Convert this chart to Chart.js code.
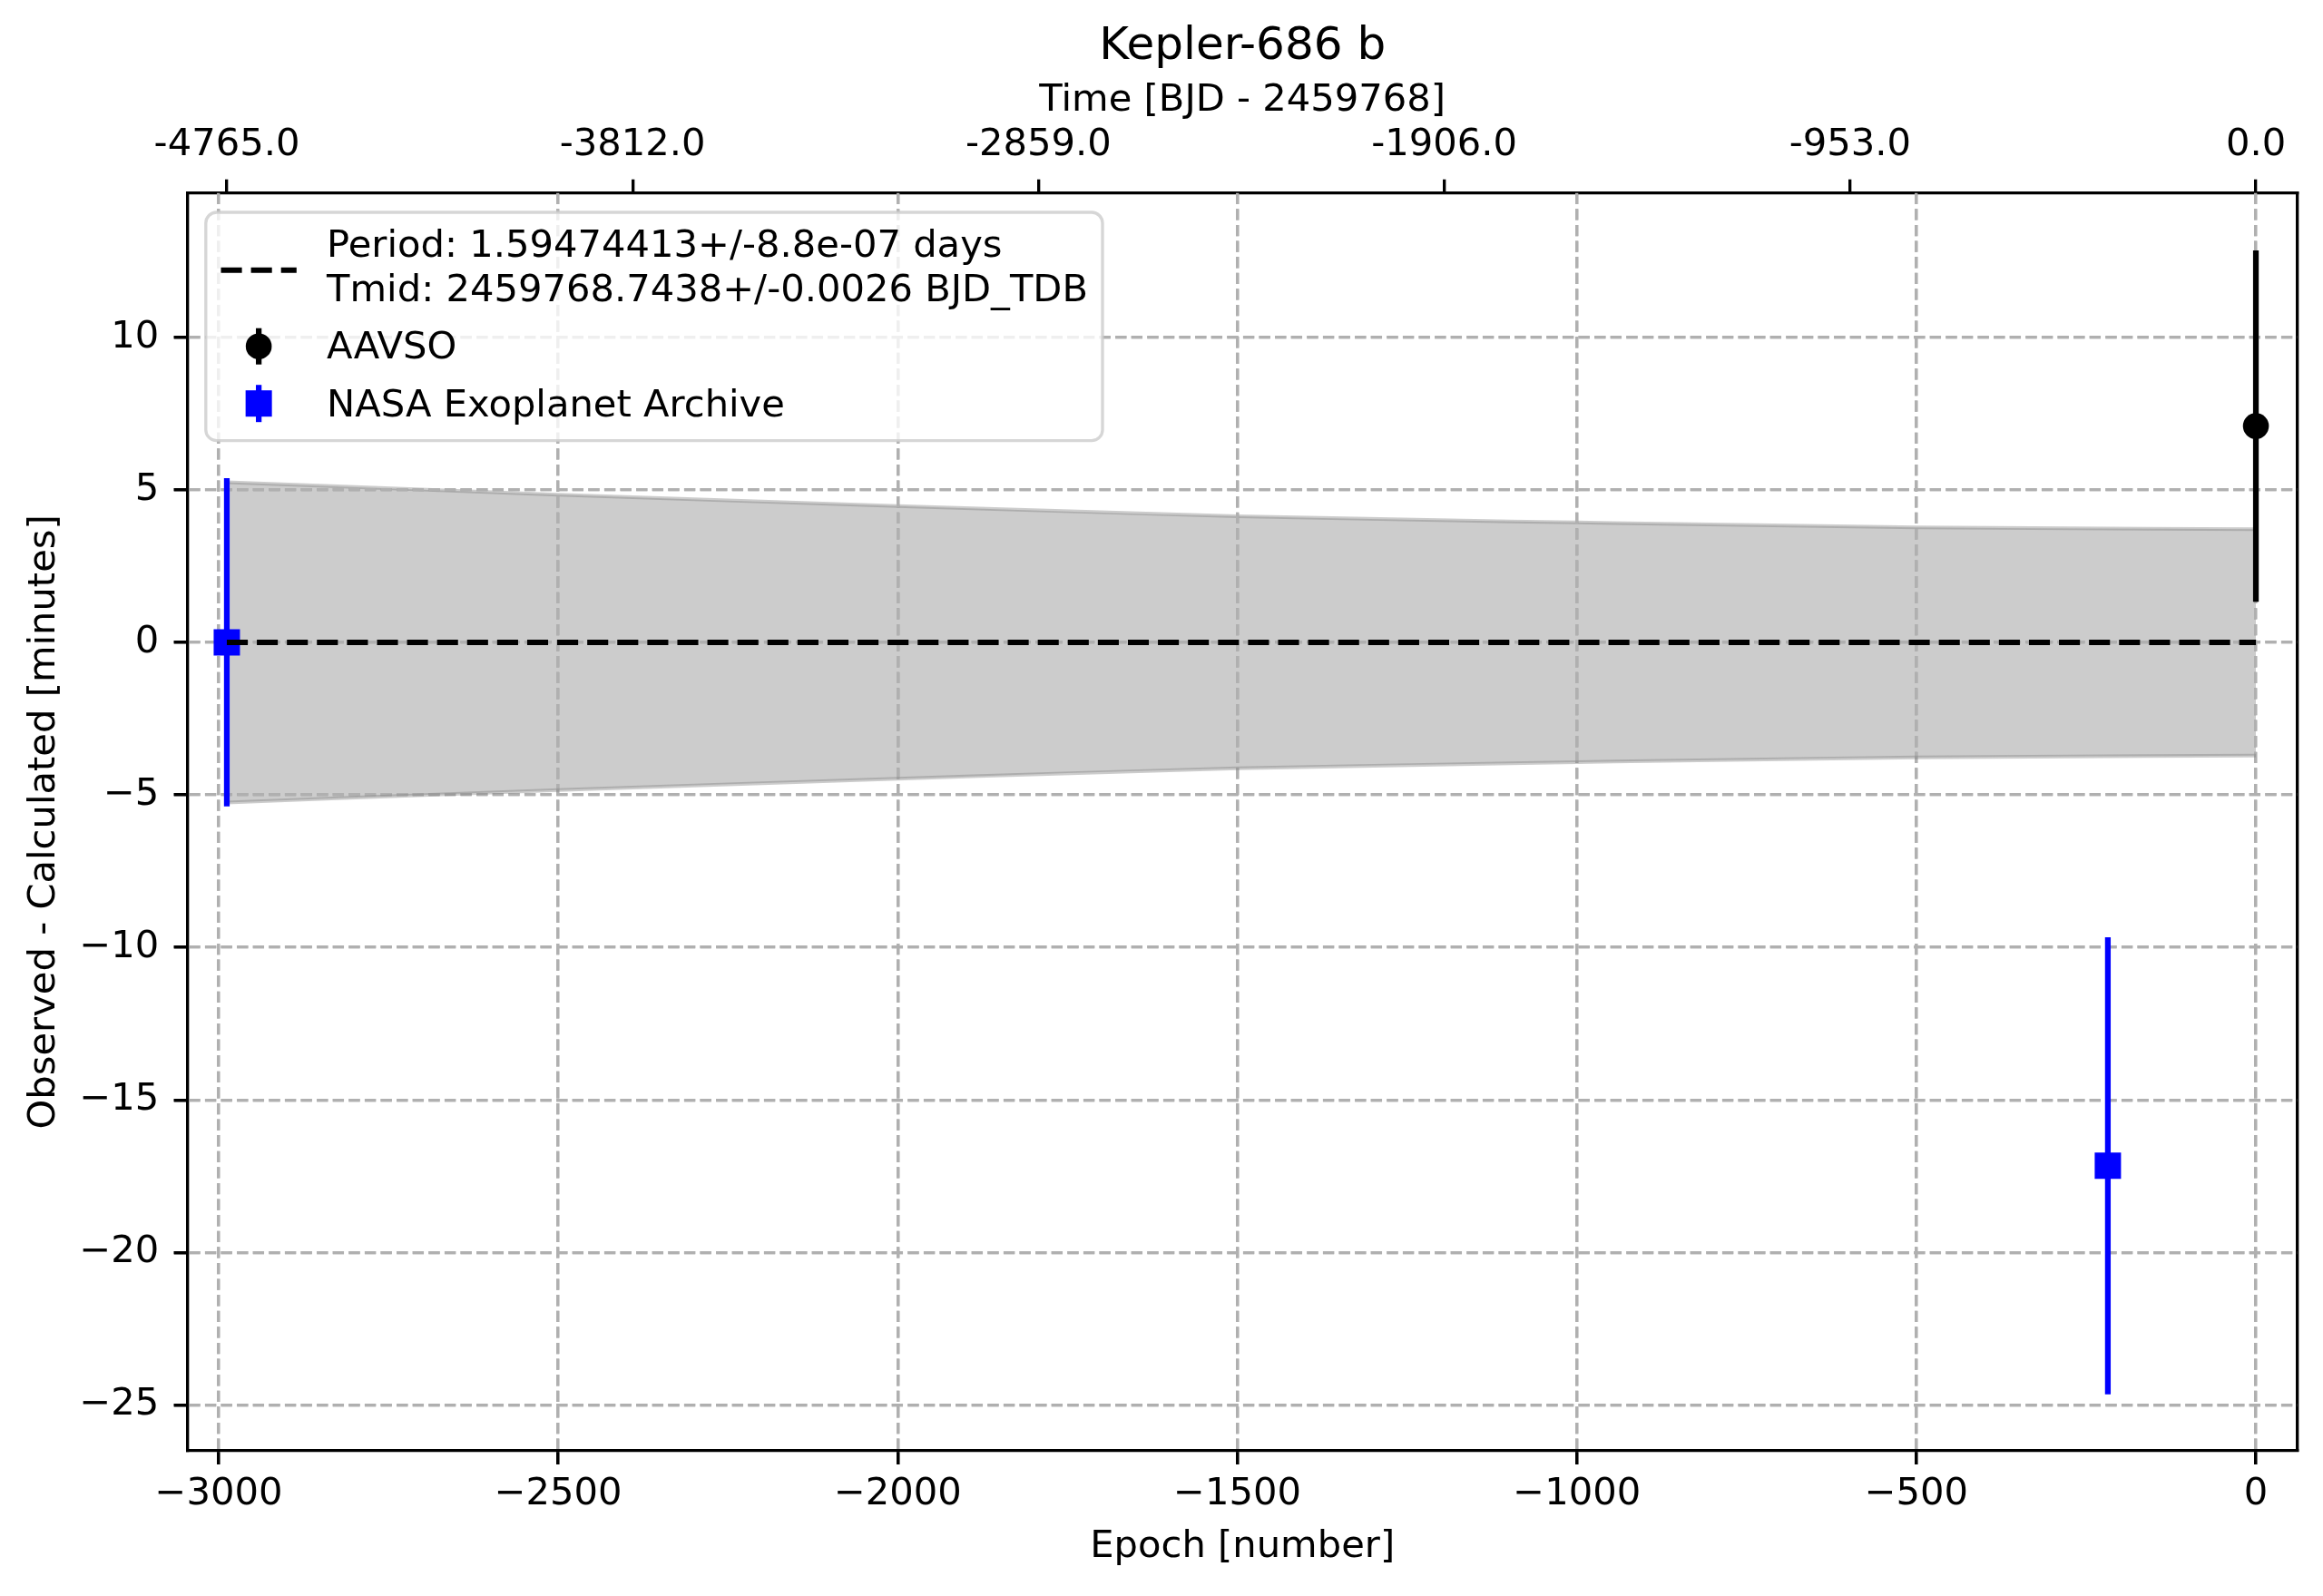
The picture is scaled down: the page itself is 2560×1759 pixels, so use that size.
<!DOCTYPE html>
<html>
<head>
<meta charset="utf-8">
<script src="https://cdn.jsdelivr.net/npm/chart.js@4.4.1/dist/chart.umd.min.js"></script>
<style>
  html, body { margin: 0; padding: 0; background: #ffffff; }
  #wrap { width: 2560px; height: 1759px; }
</style>
</head>
<body>
<div id="wrap"><canvas id="c" width="2560" height="1759" style="width:2560px;height:1759px"></canvas></div>
<script>
// ---------------- data ----------------
const PERIOD = 1.59474413;
const X_MIN = -3045.8;
const X_MAX = 61;
const Y_MIN = -26.505;
const Y_MAX = 14.73;
const X_TICKS = [-3000, -2500, -2000, -1500, -1000, -500, 0];
const Y_TICKS = [-25, -20, -15, -10, -5, 0, 5, 10];
const TIME_TICKS = [-4765.0, -3812.0, -2859.0, -1906.0, -953.0, 0.0];

const AAVSO_EPOCH = [0];
const AAVSO_OC = [7.09];
const AAVSO_ERR = [5.76];

const NASA_EPOCH = [-2988, -218];
const NASA_OC = [0.0, -17.16];
const NASA_ERR = [5.38, 7.49];

const FIT_EPOCH = [-2988, 0];
const FIT_OC = [0, 0];

const BAND_EPOCH = [-2988, -2500, -2000, -1500, -1000, -500, 0];
const BAND_UPPER = [5.25, 4.84, 4.47, 4.13, 3.93, 3.77, 3.71];
const BAND_LOWER = [-5.25, -4.84, -4.47, -4.13, -3.93, -3.77, -3.71];

const TITLE = 'Kepler-686 b';
const X_LABEL = 'Epoch [number]';
const X2_LABEL = 'Time [BJD - 2459768]';
const Y_LABEL = 'Observed - Calculated [minutes]';
const LEGEND_FIT = ['Period: 1.59474413+/-8.8e-07 days', 'Tmid: 2459768.7438+/-0.0026 BJD_TDB'];
const LEGEND_AAVSO = 'AAVSO';
const LEGEND_NASA = 'NASA Exoplanet Archive';

// ---------------- styling ----------------
const FONT = 'DejaVu Sans';
const FS = 41.67;
const LW = 6.25;
const SPINE = 3.33;
const TICK_LEN = 15;
const GRID_COLOR = '#b0b0b0';
const GRID_DASH = [12.3, 5.3];
const LINE_DASH = [23.1, 10];
const MINUS = '\u2212';

function fmtMinus(v) {
  const s = String(v);
  return s.replace('-', MINUS);
}

const pts = (xs, ys) => xs.map((x, i) => ({ x: x, y: ys[i] }));

const datasets = [];
// band (fill_between)
datasets.push({
  label: 'band_upper',
  data: pts(BAND_EPOCH, BAND_UPPER),
  showLine: true,
  borderColor: 'rgba(128,128,128,0.4)',
  backgroundColor: 'rgba(128,128,128,0.4)',
  borderWidth: 4,
  pointRadius: 0,
  fill: '+1',
  cubicInterpolationMode: 'monotone',
  order: 4
});
datasets.push({
  label: 'band_lower',
  data: pts(BAND_EPOCH, BAND_LOWER),
  showLine: true,
  borderColor: 'rgba(128,128,128,0.4)',
  backgroundColor: 'rgba(128,128,128,0.4)',
  borderWidth: 4,
  pointRadius: 0,
  fill: false,
  cubicInterpolationMode: 'monotone',
  order: 3
});
// error bars
function addErrBars(xs, ys, es, color) {
  xs.forEach((x, i) => {
    datasets.push({
      label: 'err',
      data: [{ x: x, y: ys[i] - es[i] }, { x: x, y: ys[i] + es[i] }],
      showLine: true,
      borderColor: color,
      borderWidth: LW,
      pointRadius: 0,
      fill: false,
      order: 2
    });
  });
}
addErrBars(AAVSO_EPOCH, AAVSO_OC, AAVSO_ERR, '#000000');
addErrBars(NASA_EPOCH, NASA_OC, NASA_ERR, '#0000ff');
// markers
datasets.push({
  label: LEGEND_AAVSO,
  data: pts(AAVSO_EPOCH, AAVSO_OC),
  pointStyle: 'circle',
  pointRadius: 14.3,
  pointBackgroundColor: '#000000',
  pointBorderWidth: 0,
  showLine: false,
  order: 1
});
datasets.push({
  label: LEGEND_NASA,
  data: pts(NASA_EPOCH, NASA_OC),
  pointStyle: 'rect',
  pointRadius: 20.5,
  pointBackgroundColor: '#0000ff',
  pointBorderWidth: 0,
  showLine: false,
  order: 1
});
// fit line
datasets.push({
  label: 'fit',
  data: pts(FIT_EPOCH, FIT_OC),
  showLine: true,
  borderColor: '#000000',
  borderWidth: 6,
  borderDash: LINE_DASH,
  pointRadius: 0,
  fill: false,
  order: 0
});

// redraw grid above the band (matplotlib draws grid over patches)
const gridOverBand = {
  id: 'gridOverBand',
  afterDatasetDraw(chart, args) {
    if (args.index === 0) {
      chart.scales.x.drawGrid(chart.chartArea);
      chart.scales.y.drawGrid(chart.chartArea);
    }
  }
};

// matplotlib style legend
const mplLegend = {
  id: 'mplLegend',
  afterDraw(chart) {
    const ctx = chart.ctx;
    const ca = chart.chartArea;
    const L = ca.left + 20.1, T = ca.top + 21.3, R = L + 988.2, B = T + 251.7;
    ctx.save();
    ctx.beginPath();
    if (ctx.roundRect) ctx.roundRect(L, T, R - L, B - T, 12); else ctx.rect(L, T, R - L, B - T);
    ctx.fillStyle = 'rgba(255,255,255,0.8)';
    ctx.fill();
    ctx.lineWidth = SPINE;
    ctx.strokeStyle = 'rgba(204,204,204,0.8)';
    ctx.stroke();

    const hx0 = L + 16.7, hx1 = hx0 + 83.3, hxc = (hx0 + hx1) / 2;
    const tx = L + 133.3;
    // fit handle
    ctx.beginPath();
    ctx.setLineDash(LINE_DASH);
    ctx.lineWidth = 6;
    ctx.strokeStyle = '#000000';
    ctx.moveTo(hx0, T + 63.7);
    ctx.lineTo(hx1, T + 63.7);
    ctx.stroke();
    ctx.setLineDash([]);
    // AAVSO handle
    const ay = T + 147.7;
    ctx.beginPath();
    ctx.lineWidth = LW;
    ctx.moveTo(hxc, ay - 20);
    ctx.lineTo(hxc, ay + 20);
    ctx.stroke();
    ctx.beginPath();
    ctx.fillStyle = '#000000';
    ctx.arc(hxc, ay, 14.3, 0, Math.PI * 2);
    ctx.fill();
    // NASA handle
    const ny = T + 210.7;
    ctx.beginPath();
    ctx.strokeStyle = '#0000ff';
    ctx.moveTo(hxc, ny - 20.5);
    ctx.lineTo(hxc, ny + 20.5);
    ctx.stroke();
    ctx.fillStyle = '#0000ff';
    ctx.fillRect(hxc - 14.5, ny - 14.5, 29, 29);
    // texts
    ctx.fillStyle = '#000000';
    ctx.font = FS + 'px "' + FONT + '"';
    ctx.textAlign = 'left';
    ctx.textBaseline = 'alphabetic';
    ctx.fillText(LEGEND_FIT[0], tx, T + 49.3);
    ctx.fillText(LEGEND_FIT[1], tx, T + 97.7);
    ctx.fillText(LEGEND_AAVSO, tx, T + 161);
    ctx.fillText(LEGEND_NASA, tx, T + 225.3);
    ctx.restore();
  }
};

const tickFont = { family: FONT, size: FS, weight: 'normal' };

new Chart(document.getElementById('c'), {
  type: 'scatter',
  data: { datasets: datasets },
  options: {
    responsive: false,
    maintainAspectRatio: false,
    devicePixelRatio: 1,
    animation: false,
    events: [],
    layout: { padding: 0 },
    plugins: {
      legend: { display: false },
      tooltip: { enabled: false },
      title: {
        display: true,
        text: TITLE,
        fullSize: false,
        color: '#000000',
        font: { family: FONT, size: 50, weight: 'normal' },
        padding: { top: 21.7, bottom: 0.3 }
      },
      filler: { propagate: false }
    },
    scales: {
      x: {
        type: 'linear',
        position: 'bottom',
        min: X_MIN,
        max: X_MAX,
        afterBuildTicks: s => { s.ticks = X_TICKS.map(v => ({ value: v })); },
        afterFit: s => { s.height = 160; },
        ticks: {
          color: '#000000', font: tickFont, padding: 8.3,
          autoSkip: false, maxRotation: 0, minRotation: 0,
          callback: v => fmtMinus(v)
        },
        grid: {
          display: true, drawOnChartArea: true, drawTicks: true,
          color: GRID_COLOR, lineWidth: SPINE,
          tickColor: '#000000', tickWidth: SPINE, tickLength: TICK_LEN, tickBorderDash: []
        },
        border: { display: true, color: '#000000', width: SPINE, dash: GRID_DASH },
        title: {
          display: true, text: X_LABEL, color: '#000000',
          font: { family: FONT, size: FS, weight: 'normal' },
          padding: { top: 0, bottom: 29 }
        }
      },
      x2: {
        type: 'linear',
        axis: 'x',
        position: 'top',
        min: X_MIN * PERIOD,
        max: X_MAX * PERIOD,
        afterBuildTicks: s => { s.ticks = TIME_TICKS.map(v => ({ value: v })); },
        afterFit: s => { s.height = 130.7; },
        ticks: {
          color: '#000000', font: tickFont, padding: 12.8,
          autoSkip: false, maxRotation: 0, minRotation: 0,
          callback: v => Number(v).toFixed(1)
        },
        grid: {
          display: true, drawOnChartArea: false, drawTicks: true,
          color: '#000000', lineWidth: SPINE,
          tickColor: '#000000', tickWidth: SPINE, tickLength: TICK_LEN, tickBorderDash: []
        },
        border: { display: true, color: '#000000', width: SPINE },
        title: {
          display: true, text: X2_LABEL, color: '#000000',
          font: { family: FONT, size: FS, weight: 'normal' },
          padding: { top: 4.2, bottom: 0 }
        }
      },
      y: {
        type: 'linear',
        position: 'left',
        min: Y_MIN,
        max: Y_MAX,
        afterBuildTicks: s => { s.ticks = Y_TICKS.map(v => ({ value: v })); },
        afterFit: s => { s.width = 206.7; },
        ticks: {
          color: '#000000', font: tickFont, padding: 16.4,
          autoSkip: false,
          callback: v => fmtMinus(v)
        },
        grid: {
          display: true, drawOnChartArea: true, drawTicks: true,
          color: GRID_COLOR, lineWidth: SPINE,
          tickColor: '#000000', tickWidth: SPINE, tickLength: TICK_LEN, tickBorderDash: []
        },
        border: { display: true, color: '#000000', width: SPINE, dash: GRID_DASH },
        title: {
          display: true, text: Y_LABEL, color: '#000000',
          font: { family: FONT, size: FS, weight: 'normal' },
          padding: { top: 23.9, bottom: 0 }
        }
      },
      yR: {
        type: 'linear',
        axis: 'y',
        position: 'right',
        min: Y_MIN,
        max: Y_MAX,
        afterFit: s => { s.width = 28.3; },
        ticks: { display: false },
        grid: { display: false, drawOnChartArea: false, drawTicks: false },
        border: { display: true, color: '#000000', width: SPINE }
      }
    }
  },
  plugins: [gridOverBand, mplLegend]
});
</script>
</body>
</html>
